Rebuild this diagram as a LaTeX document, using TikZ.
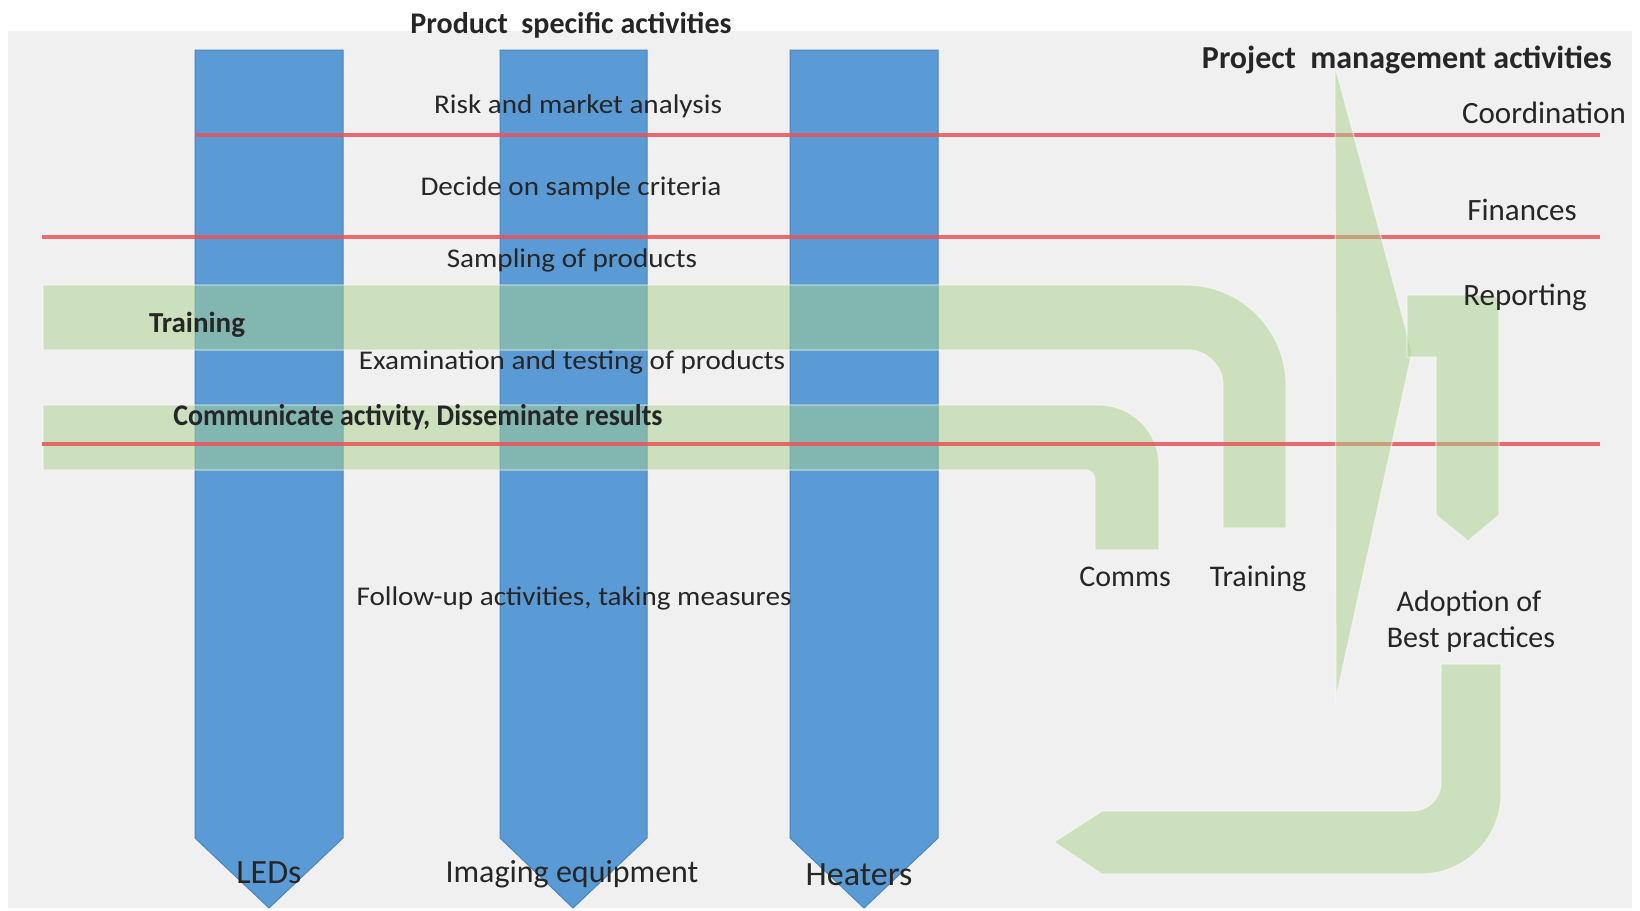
\documentclass[tikz,border=0pt]{standalone}
\usepackage{fontspec}
\setmainfont{Carlito}
\newfontfamily\widefont{Carlito}[FakeStretch=1.08]
\newfontfamily\narrowfont{Carlito}[FakeStretch=0.93]
\usepackage{tikz}

\definecolor{bggray}{HTML}{F0F0F0}
\definecolor{colblue}{HTML}{5B9BD5}
\definecolor{coledge}{HTML}{4A86C0}
\definecolor{flowgreen}{HTML}{A9D18E}
\definecolor{linered}{HTML}{E8545A}
\definecolor{txtgray}{HTML}{262626}

\begin{document}
\begin{tikzpicture}[x=1pt, y=-1pt,
	column/.style={fill=colblue, draw=coledge, line width=1pt},
	flow/.style={fill=flowgreen, draw=white, line width=1.2pt, opacity=0.5},
	redline/.style={draw=linered, line width=3.5pt, opacity=0.85},
	midlbl/.style={anchor=base, text=txtgray, font=\widefont\fontsize{27}{32}\selectfont},
	sidelbl/.style={anchor=base, text=txtgray, font=\fontsize{30}{36}\selectfont},
	boldlbl/.style={anchor=base, text=txtgray, font=\bfseries\fontsize{30}{36}\selectfont},
	prodlbl/.style={anchor=base, text=txtgray, font=\fontsize{34}{40}\selectfont}]
	\useasboundingbox (0,0) rectangle (1640,910);
	\path [fill=white] (0,0) rectangle (1640,910);
	\path [fill=bggray] (8,31) rectangle (1632,908);
	
	% product columns
	\path [column] (195,50) -- (343,50) -- (343,838) -- (269,908) -- (195,838) -- cycle;
	\path [column] (500,50) -- (647,50) -- (647,838) -- (573,908) -- (500,838) -- cycle;
	\path [column] (790,50) -- (938,50) -- (938,838) -- (864,908) -- (790,838) -- cycle;
	
	% training and comms bands
	\path [flow] (43,285) -- (1186,285) .. controls (1241,285) and (1286,330) .. (1286,385) -- (1286,528) -- (1223,528) -- (1223,385) .. controls (1223,366) and (1207,350) .. (1188,350) -- (43,350) -- cycle;
	\path [flow] (43,405) -- (1099,405) .. controls (1132,405) and (1159,432) .. (1159,465) -- (1159,550) -- (1095,550) -- (1095,480) .. controls (1095,474) and (1091,470) .. (1085,470) -- (43,470) -- cycle;
	
	% phase lines
	\draw [redline] (195,135) -- (1600,135);
	\draw [redline] (42,237) -- (1600,237);
	\draw [redline] (42,444) -- (1600,444);
	
	% management arrows
	\path [flow] (1335,66) -- (1412,352) -- (1336,698) -- cycle;
	\path [flow] (1407,295) -- (1491,295) .. controls (1496,295) and (1499,298) .. (1499,303) -- (1499,515) -- (1468,541) -- (1436,515) -- (1436,357) -- (1407,357) -- cycle;
	\path [flow] (1441,664) -- (1501,664) -- (1501,794) .. controls (1501,838) and (1465,874) .. (1421,874) -- (1102,874) -- (1054,842) -- (1102,811) -- (1413,811) .. controls (1428,811) and (1441,798) .. (1441,783) -- cycle;
	
	% headings
	\node [boldlbl] (prodhead) at (571,33) {Product~ specific activities};
	\node [boldlbl, font=\bfseries\fontsize{32}{38}\selectfont] (projhead) at (1407,68) {Project~ management activities};
	
	% product specific steps
	\node [midlbl] (risk) at (578,113) {Risk and market analysis};
	\node [midlbl] (criteria) at (571,195) {Decide on sample criteria};
	\node [midlbl] (sampling) at (572,267) {Sampling of products};
	\node [midlbl] (testing) at (572,369) {Examination and testing of products};
	\node [midlbl] (followup) at (574,605) {Follow-up activities, taking measures};
	\node [boldlbl, font=\bfseries\fontsize{29}{34}\selectfont] (trainband) at (197,332) {Training};
	\node [boldlbl, font=\narrowfont\bfseries\fontsize{30}{36}\selectfont] (commsband) at (418,425) {Communicate activity, Disseminate results};
	
	% products
	\node [prodlbl] (leds) at (269,883) {LEDs};
	\node [prodlbl, font=\fontsize{32}{38}\selectfont] (imaging) at (572,882) {Imaging equipment};
	\node [prodlbl] (heaters) at (859,885) {Heaters};
	
	% management
	\node [sidelbl, font=\fontsize{31}{37}\selectfont] (coord) at (1544,123) {Coordination};
	\node [sidelbl, font=\fontsize{31}{37}\selectfont] (finance) at (1522,220) {Finances};
	\node [sidelbl, font=\fontsize{31}{37}\selectfont] (report) at (1525,305) {Reporting};
	\node [sidelbl] (comms) at (1125,586) {Comms};
	\node [sidelbl] (training) at (1258,586) {Training};
	\node [sidelbl] (adopt) at (1469,611) {Adoption of};
	\node [sidelbl] (best) at (1471,647) {Best practices};
\end{tikzpicture}
\end{document}
